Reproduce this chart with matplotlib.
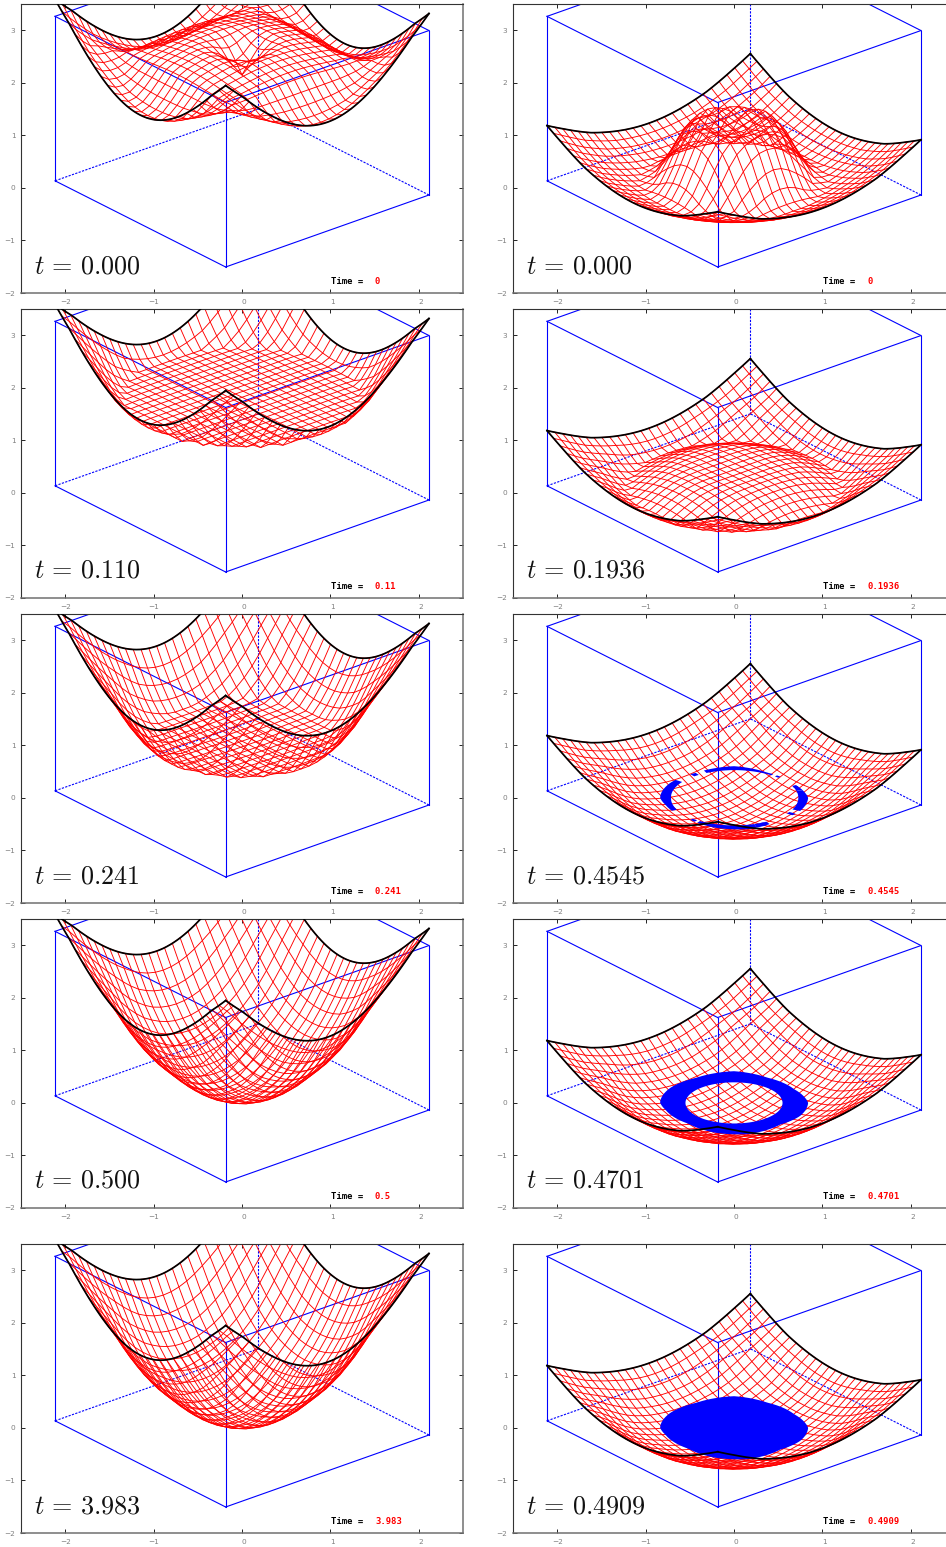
import numpy as np
import matplotlib
matplotlib.use('Agg')
import matplotlib.pyplot as plt
from matplotlib.transforms import ScaledTranslation

plt.rcParams['mathtext.fontset'] = 'cm'

# heights, as a function of distance from the centre of the square
radius = [0, .1, .2, .3, .4, .5, .6, .7, .8, .9, 1, 1.15, 1.3, 1.42]
left_t011 = [1.82, 1.82, 1.82, 1.82, 1.82, 1.82, 1.82, 1.82, 1.82, 1.81, 2.07, 2.6, 3.12, 3.47]
left_t0241 = [1.08, 1.08, 1.08, 1.09, 1.09, 1.1, 1.1, 1.12, 1.36, 1.68, 2.07, 2.6, 3.12, 3.47]
left_t05 = [.13, .15, .2, .3, .44, .62, .84, 1.06, 1.34, 1.68, 2.07, 2.6, 3.12, 3.47]
left_t3983 = [.13, .15, .2, .3, .44, .62, .84, 1.06, 1.34, 1.68, 2.07, 2.6, 3.12, 3.47]
right_t0 = [1.1, 1.14, 1.18, 1.27, 1.0, .55, .2, .12, .2, .3, .41, .62, .87, 1.06]
right_t01936 = [.44, .44, .44, .44, .42, .38, .3, .2, .1, .24, .41, .62, .87, 1.06]
right_late = [-.43, -.42, -.39, -.35, -.29, -.22, -.13, -.04, .08, .24, .41, .62, .87, 1.06]

# first left panel: the rim follows this table, the inside the plateau one
rim_t0 = [.13, .15, .2, .3, .44, .62, .84, 1.06, 1.34, 1.68, 2.07, 2.6, 3.12, 3.47]
plateau_t0 = [2.15, 2.42, 2.65, 2.72, 2.7, 2.65, 2.6, 2.55, 2.52, 2.52, 2.6, 2.72, 3.05, 3.47]
rim_dist = [0, .6, .7, .8, .9, 1]
rim_weight = [0, 0, .12, .3, .6, 1]

# outline of the blue patch, degrees and radius
blob_angle = [-180, -166, -133, -104, -78, -48, -25, 0, 28, 61, 90, 122, 151, 177, 180]
blob_r = [.557, .53, .505, .55, .565, .52, .55, .559, .515, .515, .564, .53, .55, .557, .557]
hole_r_4701 = .366
ring_angle = [-180, -90, 0, 90, 180]
ring_inner_4545 = [.475, .49, .485, .495, .475]
arc_start = [144, 15, -25, 55, 238, -72, 123, 47, 22, -35, 230, -66]
arc_end = [206, 25, 15, 115, 288, -60, 128, 51, 26, -31, 235, -63]

times_left = ['0.000', '0.110', '0.241', '0.500', '3.983']
stamps_left = ['0', '0.11', '0.241', '0.5', '3.983']
times_right = ['0.000', '0.1936', '0.4545', '0.4701', '0.4909']
stamps_right = ['0', '0.1936', '0.4545', '0.4701', '0.4909']
tops = [4, 309, 614, 919, 1244]

W, H = 946, 1547
AX_W, AX_H = 442, 289
N = 26

# directions of the two square axes and height on the picture
U_DIR = (.965, -.82)
V_DIR = (1.15, .685)


def proj(u, v, z):
    return U_DIR[0]*u + V_DIR[0]*v, U_DIR[1]*u + V_DIR[1]*v + z


def height(u, v, table):
    r = np.hypot(u, v)
    if table is None:
        w = np.interp(np.maximum(abs(u), abs(v)), rim_dist, rim_weight)
        return (1 - w)*np.interp(r, radius, plateau_t0) + w*np.interp(r, radius, rim_t0)
    return np.interp(r, radius, table)


def polar(angle, r):
    a = np.radians(angle)
    return 1.5*r*np.cos(a), 1.07*r*np.sin(a)


def draw_box(ax):
    lw = .8
    c = '#0000ff'
    hh = 3.13
    for a, b in [((-1, -1), (1, -1)), ((1, -1), (1, 1))]:
        ax.plot(*zip(proj(*a, 0), proj(*b, 0)), color=c, lw=lw)
    for a, b in [((-1, -1), (1, -1)), ((1, -1), (1, 1)), ((1, 1), (-1, 1)), ((-1, 1), (-1, -1))]:
        ax.plot(*zip(proj(*a, hh), proj(*b, hh)), color=c, lw=lw)
    for a in [(-1, -1), (1, -1), (1, 1)]:
        ax.plot(*zip(proj(*a, 0), proj(*a, hh)), color=c, lw=lw)
    for a, b in [((1, 1), (-1, 1)), ((-1, 1), (-1, -1))]:
        ax.plot(*zip(proj(*a, 0), proj(*b, 0)), color=c, lw=lw, ls=(0, (2, 1.2)))
    ax.plot(*zip(proj(-1, 1, 0), proj(-1, 1, hh)), color=c, lw=lw, ls=(0, (2, 1.2)))


def draw_surface(ax, table):
    g = np.linspace(-1, 1, N + 1)
    for c in g:
        ax.plot(*proj(g*0 + c, g, height(g*0 + c, g, table)), color='#ff0000', lw=.65)
        ax.plot(*proj(g, g*0 + c, height(g, g*0 + c, table)), color='#ff0000', lw=.65)


def draw_edges(ax, table):
    g = np.linspace(-1, 1, 61)
    for c in (-1, 1):
        ax.plot(*proj(g*0 + c, g, height(g*0 + c, g, table)), color='k', lw=1.25, zorder=5)
        ax.plot(*proj(g, g*0 + c, height(g, g*0 + c, table)), color='k', lw=1.25, zorder=5)


def draw_blob(ax, inner=None):
    th = np.arange(-180, 181, 3)
    xo, yo = polar(th, np.interp(th, blob_angle, blob_r))
    if inner is None:
        ax.fill(xo, yo, color='#0000ff', lw=0, zorder=4)
    else:
        xi, yi = polar(th, inner + th*0)
        ax.fill(np.r_[xo, xi[::-1]], np.r_[yo, yi[::-1]], color='#0000ff', lw=0, zorder=4)


def draw_arcs(ax):
    for a, b in zip(arc_start, arc_end):
        th = np.linspace(a, b, 25)
        wrapped = (th + 180) % 360 - 180
        ro = np.interp(wrapped, blob_angle, blob_r)
        ri = np.interp(wrapped, ring_angle, ring_inner_4545)
        xo, yo = polar(th, ro)
        xi, yi = polar(th, ri)
        ax.fill(np.r_[xo, xi[::-1]], np.r_[yo, yi[::-1]], color='#0000ff', lw=0, zorder=4)


def panel(left, top, table, time, stamp, blue=None):
    ax = fig.add_axes([left/W, 1 - (top + AX_H)/H, AX_W/W, AX_H/H])
    ax.set_xlim(-2.5, 2.5)
    ax.set_ylim(-2, 3.5)
    draw_box(ax)
    draw_surface(ax, table)
    if blue == 'arcs':
        draw_arcs(ax)
    elif blue == 'ring':
        draw_blob(ax, hole_r_4701)
    elif blue == 'disc':
        draw_blob(ax)
    draw_edges(ax, table)

    ax.set_xticks([-2, -1, 0, 1, 2])
    ax.set_yticks([-2, -1, 0, 1, 2, 3])
    ax.tick_params(direction='in', top=True, right=True, length=3, width=.6,
                   labelsize=5.3, labelcolor='#808080', pad=4)
    # gnuplot puts the positive labels a little to the right of their ticks
    shift = ScaledTranslation(2/100, 0, fig.dpi_scale_trans)
    for tick, lab in zip(ax.get_xticks(), ax.get_xticklabels()):
        if tick >= 0:
            lab.set_transform(lab.get_transform() + shift)
    for s in ('left', 'top'):
        ax.spines[s].set_color('#333333')
        ax.spines[s].set_linewidth(.8)
    for s in ('right', 'bottom'):
        ax.spines[s].set_color('#707070')
        ax.spines[s].set_linewidth(1.1)

    def at(px, py):
        return ax.transAxes.inverted().transform((px, H - py))
    ax.text(*at(left + 13, top + 269), r'$t\,=\,%s$' % time, fontsize=18.8, color='#111111',
            transform=ax.transAxes, va='baseline', ha='left')
    ax.text(*at(left + 310, top + 280), 'Time =', fontsize=6.4, family='DejaVu Sans Mono',
            weight='bold', color='k', transform=ax.transAxes, va='baseline')
    ax.text(*at(left + 354, top + 280), stamp, fontsize=6.4, family='DejaVu Sans Mono',
            weight='bold', color='#ff0000', transform=ax.transAxes, va='baseline')
    return ax


fig = plt.figure(figsize=(W/100, H/100), dpi=100)

left_tables = [None, left_t011, left_t0241, left_t05, left_t3983]
right_tables = [right_t0, right_t01936, right_late, right_late, right_late]
right_blue = [None, None, 'arcs', 'ring', 'disc']

for i in range(5):
    panel(21, tops[i], left_tables[i], times_left[i], stamps_left[i])
    panel(513, tops[i], right_tables[i], times_right[i], stamps_right[i], blue=right_blue[i])

fig.savefig('out.png', dpi=100)
